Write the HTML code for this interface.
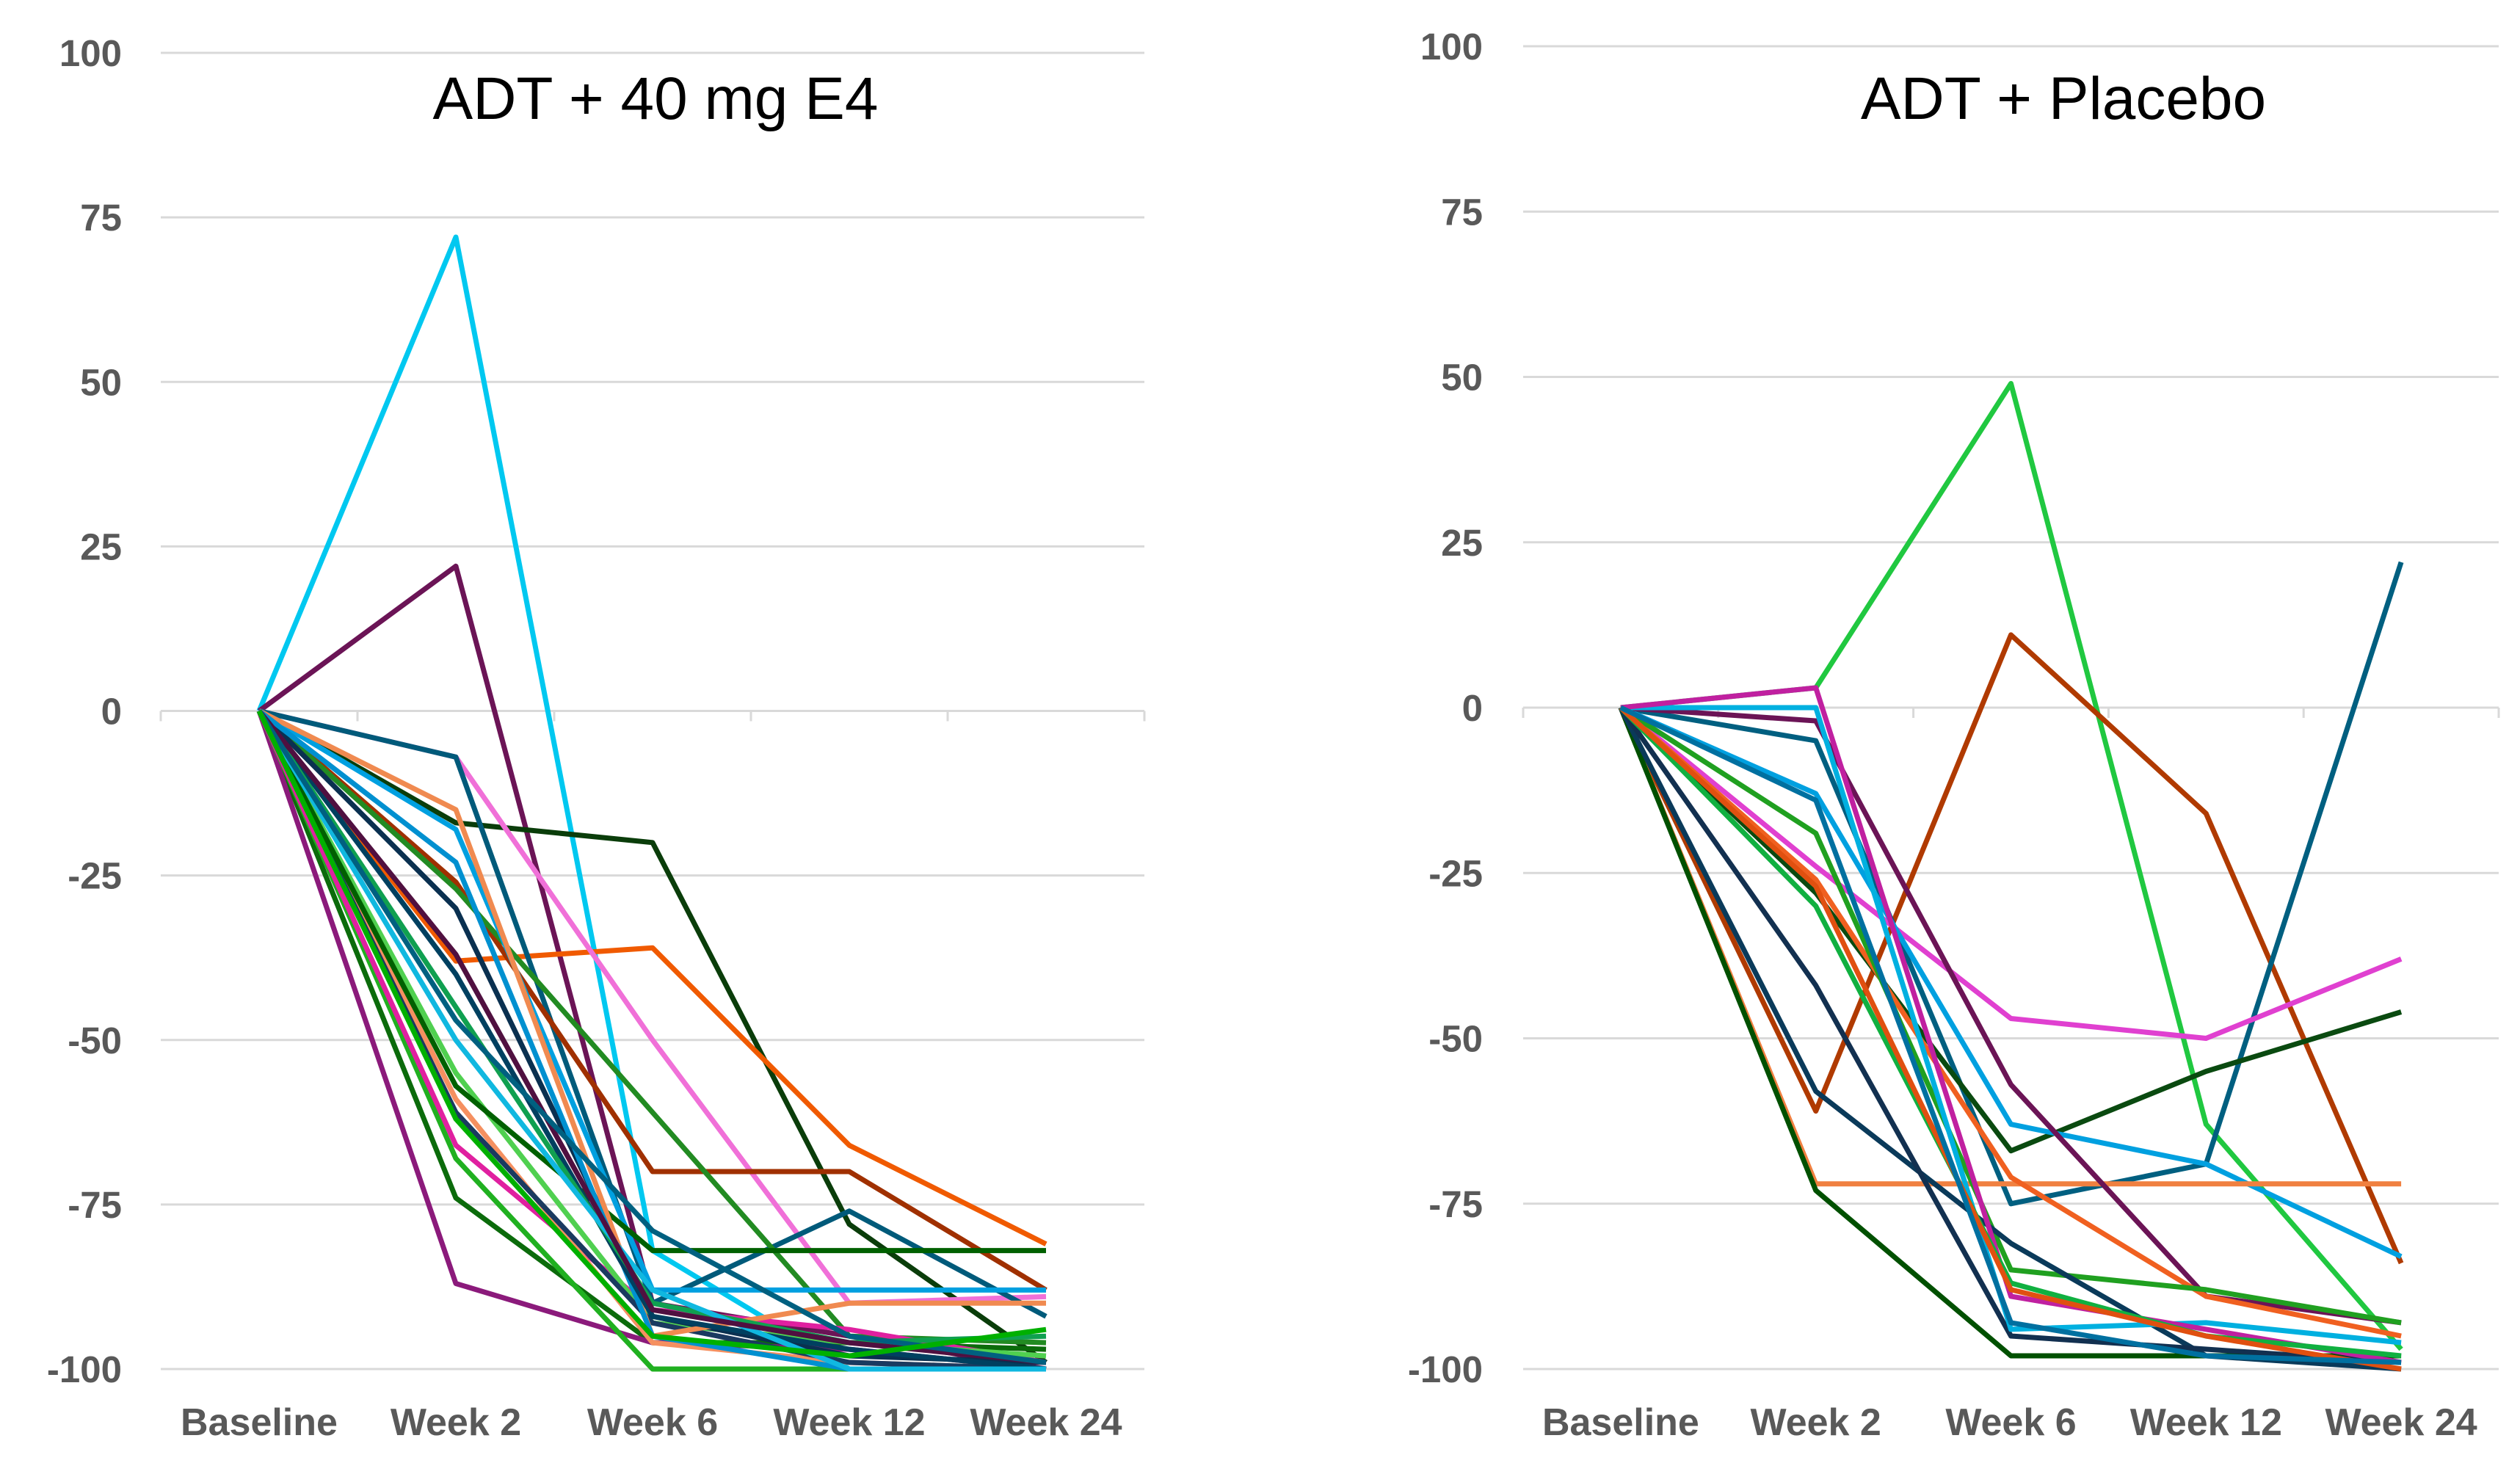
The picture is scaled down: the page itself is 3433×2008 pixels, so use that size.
<!DOCTYPE html>
<html><head><meta charset="utf-8">
<style>
html,body{margin:0;padding:0;background:#fff;}
svg{display:block;}
text{font-family:"Liberation Sans",sans-serif;}
</style></head>
<body>
<svg id="chart" width="3433" height="2008" viewBox="0 0 3433 2008" xmlns="http://www.w3.org/2000/svg"></svg>
<script>
const categories = ["Baseline","Week 2","Week 6","Week 12","Week 24"];
const yTicks = [100,75,50,25,0,-25,-50,-75,-100];
const leftTitle = "ADT + 40 mg E4";
const rightTitle = "ADT + Placebo";

const leftValues = [
 [0,72,-82,-100,-100],
 [0,22,-90,-95,-100],
 [0,-17,-20,-78,-99],
 [0,-38,-36,-66,-81],
 [0,-7,-50,-90,-89],
 [0,-7,-90,-76,-92],
 [0,-26,-70,-70,-88],
 [0,-27,-61,-95,-96],
 [0,-74,-96,-96,-97],
 [0,-87,-96,-97,-100],
 [0,-68,-100,-100,-100],
 [0,-66,-91,-94,-99],
 [0,-59,-96,-99,-100],
 [0,-55,-93,-96,-98],
 [0,-18,-88,-88,-88],
 [0,-30,-92,-98,-99],
 [0,-61,-93,-99,-100],
 [0,-57,-82,-82,-82],
 [0,-15,-95,-90,-90],
 [0,-23,-95,-100,-100],
 [0,-40,-92,-97,-100],
 [0,-45,-90,-96,-95],
 [0,-50,-88,-100,-100],
 [0,-37,-91,-96,-99],
 [0,-47,-79,-95,-99],
 [0,-62,-95,-98,-94]
];
const leftColors = ["#00c8f0","#6b1456","#0a3d0a","#f05a00","#f070d8","#005a7a","#a03000","#228b22","#0b6b0b","#8b1a7b","#20b020","#e020a0","#f59060","#50d050","#00a0e0","#0a3050","#1a3a60","#006000","#f08a50","#0090d0","#004060","#10a050","#10b8e0","#501040","#006080","#00b000"];

const rightValues = [
 [0,3,49,-63,-97],
 [0,-61,11,-16,-84],
 [0,-5,-75,-69,22],
 [0,-24,-47,-50,-38],
 [0,-28,-67,-55,-46],
 [0,-13,-63,-69,-83],
 [0,-72,-72,-72,-72],
 [0,-2,-57,-89,-93],
 [0,-26,-71,-89,-95],
 [0,-19,-85,-88,-93],
 [0,-73,-98,-98,-98],
 [0,-58,-81,-98,-100],
 [0,-42,-95,-97,-99],
 [0,0,-94,-93,-96],
 [0,3,-89,-94,-99],
 [0,-30,-87,-95,-98],
 [0,-27,-88,-95,-100],
 [0,-14,-93,-98,-99]
];
const rightColors = ["#20c840","#b03a00","#005f80","#e040d0","#0a4a10","#00a0e0","#f08040","#6b1456","#f06020","#20a020","#005000","#0a3a5a","#123050","#00b0e0","#c020a0","#10b040","#e05010","#0070a0"];

const NS = "http://www.w3.org/2000/svg";
const svg = document.getElementById("chart");
function mk(tag, attrs, parent){
  const e = document.createElementNS(NS, tag);
  for (const k in attrs) e.setAttribute(k, attrs[k]);
  (parent||svg).appendChild(e);
  return e;
}

function drawPanel(p, values, colors, title, side){
  const g = mk("g", {});
  
  
  const y = v => p.y0 + (100 - v) / 200 * (p.y1 - p.y0);
  const bw = (p.x1 - p.x0) / categories.length;
  const x = i => p.x0 + bw * (i + 0.5);
  yTicks.forEach(t => {
    const ln = mk("line", {x1:p.x0, x2:p.x1, y1:y(t), y2:y(t), stroke:"#d9d9d9", "stroke-width":3}, g);
    
    
    const tx = mk("text", {x:p.lx, y:y(t)+18, "text-anchor":"end", "font-size":51, "font-weight":"bold", fill:"#595959"}, g);
    tx.textContent = t;
    
    
  });
  for (let i = 0; i <= categories.length; i++){
    const tk = mk("line", {x1:p.x0 + bw*i, x2:p.x0 + bw*i, y1:y(0), y2:y(0)+14, stroke:"#d9d9d9", "stroke-width":3}, g);
    
    
  }
  categories.forEach((c, i) => {
    const tx = mk("text", {x:x(i), y:p.cy, "text-anchor":"middle", "font-size":52, "font-weight":"bold", fill:"#595959"}, g);
    tx.textContent = c;
    
    
  });
  values.forEach((s, k) => {
    const pts = s.map((v, i) => x(i).toFixed(1) + "," + y(v).toFixed(1)).join(" ");
    const pl = mk("polyline", {points:pts, fill:"none", stroke:colors[k % colors.length], "stroke-width":7, "stroke-linejoin":"round"}, g);
    
    
  });
  const tt = mk("text", {x:p.tx, y:p.ty, "text-anchor":"middle", "font-size":82, fill:"#000"}, g);
  tt.textContent = title;
  
  
}

drawPanel({x0:219, x1:1559, y0:72, y1:1865, lx:166, cy:1955, tx:893, ty:162}, leftValues, leftColors, leftTitle, "left");
drawPanel({x0:2075, x1:3404, y0:63, y1:1865, lx:2020, cy:1955, tx:2811, ty:162}, rightValues, rightColors, rightTitle, "right");
</script>
</body></html>
